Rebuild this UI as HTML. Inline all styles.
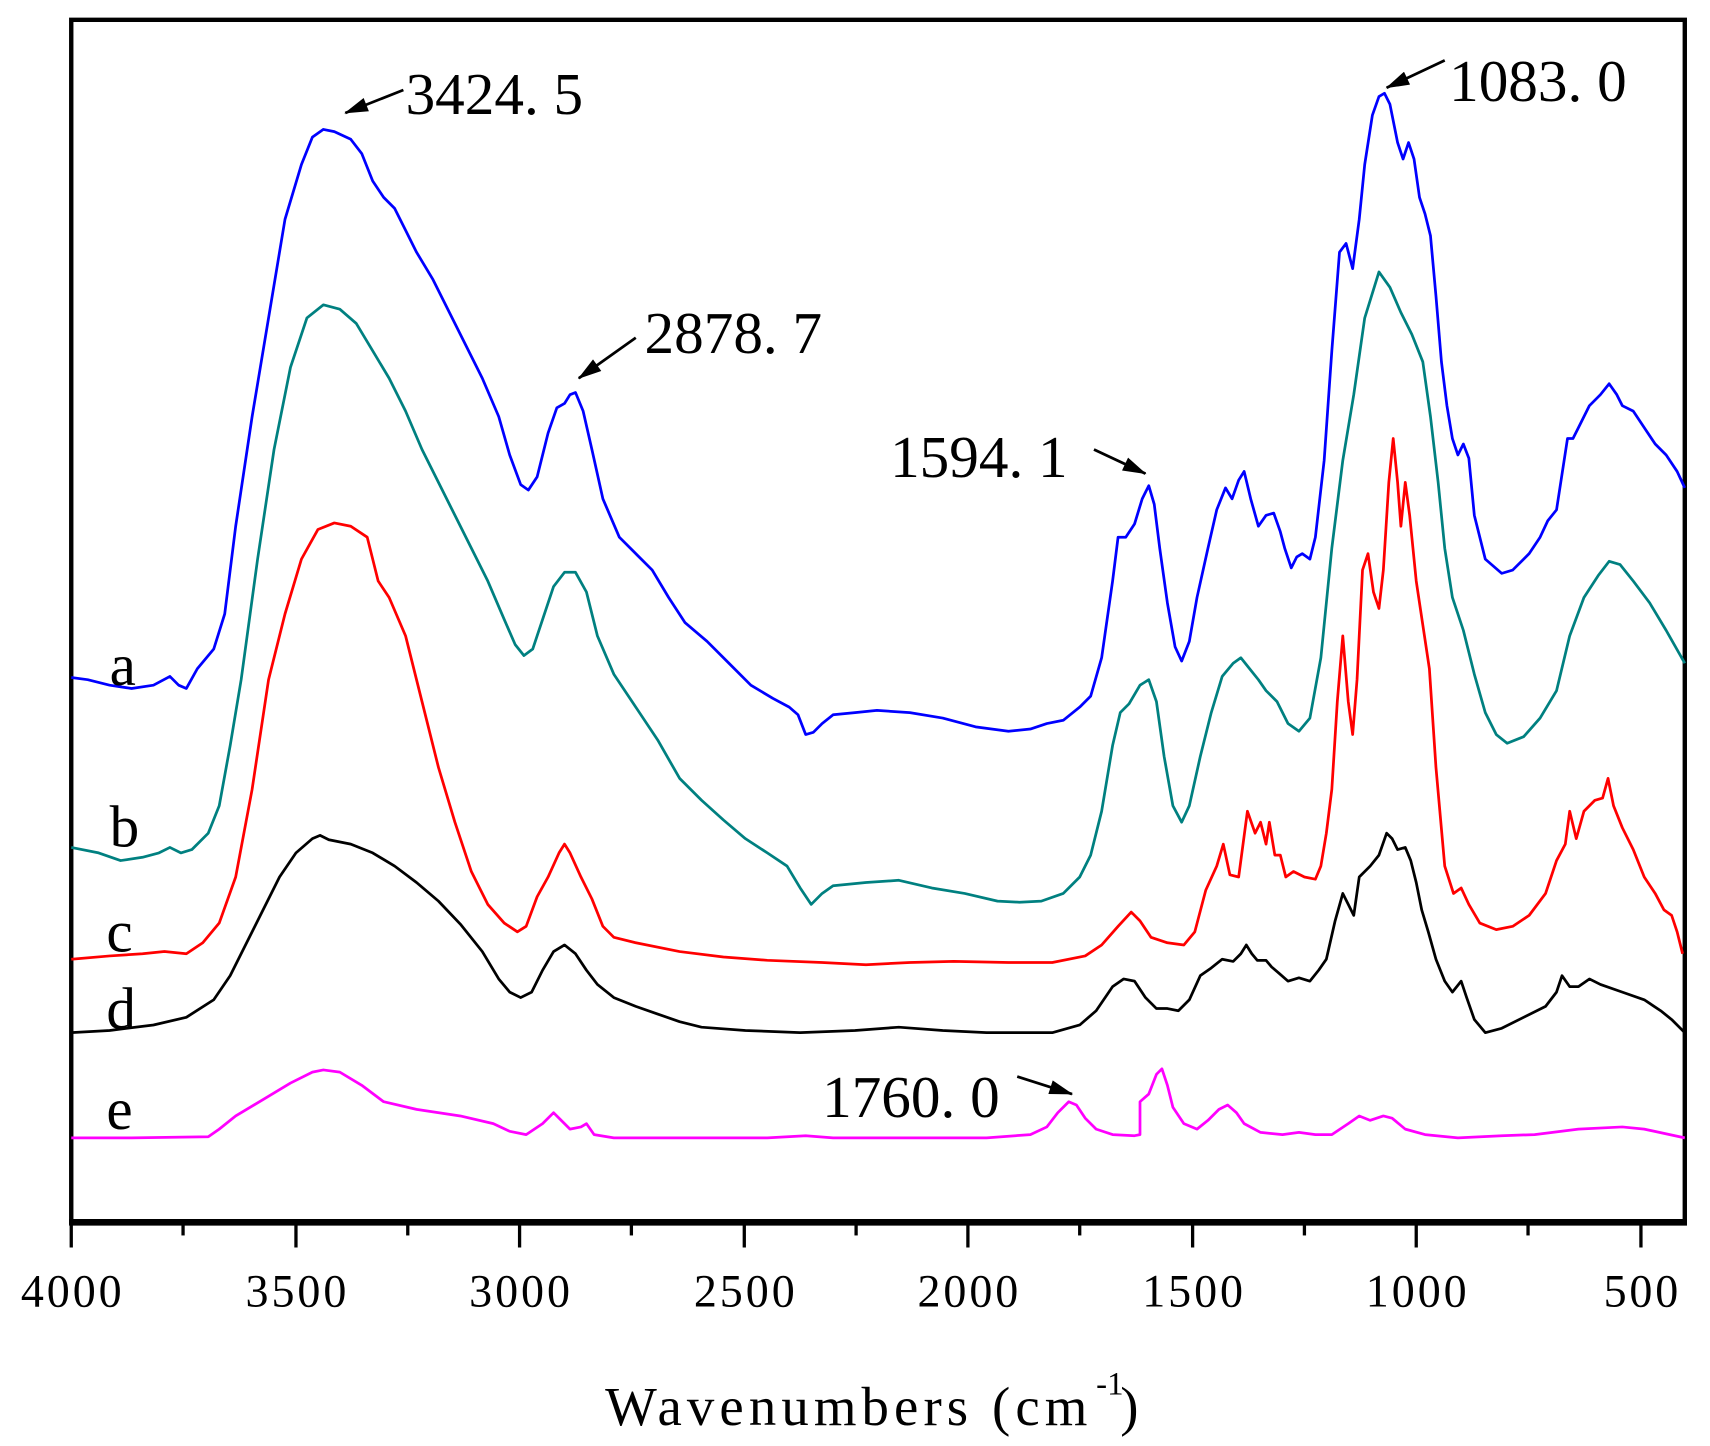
<!DOCTYPE html>
<html><head><meta charset="utf-8"><style>html,body{margin:0;padding:0;background:#fff}svg{display:block}</style></head><body>
<svg width="1710" height="1446" viewBox="0 0 1560 1319" xmlns="http://www.w3.org/2000/svg" font-family="'Liberation Serif', serif">
<defs><marker id="ah" markerWidth="10" markerHeight="8" refX="9" refY="4" orient="auto" markerUnits="userSpaceOnUse"><path d="M0,0 L10,4 L0,8 Z" fill="#000"/></marker>
<marker id="ar" viewBox="0 0 20 12" markerWidth="22" markerHeight="13" refX="19" refY="6" orient="auto" markerUnits="userSpaceOnUse"><path d="M0,0 L20,6 L0,12 Z" fill="#000"/></marker></defs>
<rect x="65" y="18" width="1472" height="1097" fill="none" stroke="#000" stroke-width="4"/>
<line x1="63" y1="1115" x2="1539" y2="1115" stroke="#000" stroke-width="6"/>
<g stroke="#000" stroke-width="3">
<line x1="65" y1="1115" x2="65" y2="1138"/><line x1="167" y1="1115" x2="167" y2="1127"/>
<line x1="270" y1="1115" x2="270" y2="1138"/><line x1="372" y1="1115" x2="372" y2="1127"/>
<line x1="474" y1="1115" x2="474" y2="1138"/><line x1="576" y1="1115" x2="576" y2="1127"/>
<line x1="679" y1="1115" x2="679" y2="1138"/><line x1="781" y1="1115" x2="781" y2="1127"/>
<line x1="883" y1="1115" x2="883" y2="1138"/><line x1="985" y1="1115" x2="985" y2="1127"/>
<line x1="1088" y1="1115" x2="1088" y2="1138"/><line x1="1190" y1="1115" x2="1190" y2="1127"/>
<line x1="1292" y1="1115" x2="1292" y2="1138"/><line x1="1394" y1="1115" x2="1394" y2="1127"/>
<line x1="1497" y1="1115" x2="1497" y2="1138"/>
</g>
<g font-size="42" text-anchor="middle" fill="#000">
<text x="65" y="1192" textLength="92">4000</text><text x="270" y="1192" textLength="92">3500</text><text x="474" y="1192" textLength="92">3000</text><text x="679" y="1192" textLength="92">2500</text><text x="883" y="1192" textLength="92">2000</text><text x="1088" y="1192" textLength="92">1500</text><text x="1292" y="1192" textLength="92">1000</text><text x="1497" y="1192" textLength="68">500</text>
</g>
<text x="552" y="1300" font-size="50" textLength="440">Wavenumbers (cm</text>
<text x="1000" y="1272" font-size="30">-1</text>
<text x="1022" y="1300" font-size="50">)</text>
<g fill="none" stroke-width="2.5" stroke-linejoin="round">
<polyline stroke="#0000ff" points="65,618 80,620 100,625 120,628 140,625 155,617 163,625 170,628 180,610 195,592 205,560 215,480 230,380 245,290 260,200 275,150 285,125 295,118 305,120 320,127 330,140 340,165 350,180 360,190 370,210 380,230 395,255 410,285 425,315 440,345 455,380 465,415 475,442 482,447 490,435 500,395 508,372 515,368 520,360 525,358 532,375 540,410 550,455 565,490 580,505 595,520 610,545 625,568 645,585 665,605 685,625 705,637 720,645 728,652 735,670 742,668 750,660 760,652 780,650 800,648 830,650 860,655 890,663 920,667 940,665 955,660 970,657 985,645 995,635 1005,600 1015,530 1020,490 1027,490 1035,478 1042,455 1048,443 1053,460 1058,500 1065,550 1072,590 1078,603 1085,585 1092,545 1102,500 1110,465 1118,445 1124,455 1130,438 1135,430 1141,455 1148,480 1155,470 1162,468 1168,485 1172,500 1178,518 1183,508 1188,505 1195,510 1200,490 1208,420 1215,320 1222,230 1228,222 1234,245 1240,200 1245,150 1252,105 1258,88 1263,85 1268,95 1275,130 1280,145 1285,130 1290,145 1295,180 1300,195 1305,215 1310,270 1315,330 1320,370 1325,400 1330,415 1335,405 1340,418 1345,470 1355,510 1370,523 1380,520 1395,505 1405,490 1412,475 1420,465 1430,400 1435,400 1440,390 1450,370 1460,360 1468,350 1475,360 1480,370 1490,375 1500,390 1510,405 1520,415 1530,430 1537,445"/>
<polyline stroke="#008080" points="65,773 90,778 110,785 130,782 145,778 155,773 165,778 175,775 190,760 200,735 210,680 220,620 235,510 250,410 265,335 280,290 295,278 310,282 325,295 340,320 355,345 370,375 385,410 400,440 415,470 430,500 445,530 460,565 470,588 478,598 486,592 495,565 505,535 515,522 525,522 535,540 545,580 560,615 580,645 600,675 620,710 640,730 660,748 680,765 700,778 718,790 730,810 740,825 750,815 760,808 790,805 820,803 850,810 880,815 910,822 930,823 950,822 970,815 985,800 995,780 1005,740 1015,680 1022,650 1030,642 1040,625 1048,620 1055,640 1062,690 1070,735 1078,750 1085,735 1095,690 1105,650 1115,617 1125,605 1132,600 1140,610 1148,620 1155,630 1165,640 1175,660 1185,667 1195,655 1205,600 1215,500 1225,420 1235,360 1245,290 1258,248 1268,262 1278,285 1288,305 1298,330 1305,380 1312,440 1318,500 1325,545 1335,575 1345,615 1355,650 1365,670 1375,678 1390,672 1405,655 1420,630 1432,580 1445,545 1458,525 1468,512 1478,515 1490,530 1505,550 1520,575 1537,605"/>
<polyline stroke="#ff0000" points="65,875 100,872 130,870 150,868 170,870 185,860 200,842 215,800 230,720 245,620 260,560 275,510 290,483 305,477 320,480 335,490 345,530 355,545 370,580 385,640 400,700 415,750 430,795 445,825 460,842 472,850 480,845 490,818 500,800 510,778 515,770 520,778 530,800 540,820 550,845 560,855 580,860 620,868 660,873 700,876 750,878 790,880 830,878 870,877 920,878 960,878 990,872 1005,862 1020,845 1032,832 1040,840 1050,855 1065,860 1080,862 1090,850 1100,812 1110,790 1116,770 1122,798 1130,800 1138,740 1145,760 1150,750 1155,770 1158,750 1163,780 1168,780 1173,800 1180,795 1190,800 1200,802 1205,790 1210,760 1215,720 1220,640 1225,580 1230,640 1234,670 1238,620 1243,520 1248,505 1253,540 1258,555 1262,520 1267,440 1271,400 1275,440 1278,480 1282,440 1286,470 1292,530 1298,570 1304,610 1310,700 1318,790 1326,815 1333,810 1340,825 1350,842 1365,848 1380,845 1395,835 1410,815 1420,785 1428,770 1432,740 1438,765 1445,740 1455,730 1462,728 1467,710 1472,735 1480,755 1490,775 1500,800 1510,815 1518,830 1525,835 1530,850 1535,870"/>
<polyline stroke="#000000" points="65,942 100,940 140,935 170,928 195,912 210,890 225,860 240,830 255,800 270,778 285,765 292,762 300,766 320,770 340,778 360,790 380,805 400,822 420,843 440,868 455,893 465,905 475,910 485,905 495,885 505,868 515,862 525,870 535,885 545,898 560,910 580,918 600,925 620,932 640,937 680,940 730,942 780,940 820,937 860,940 900,942 960,942 985,935 1000,922 1015,900 1025,893 1035,895 1045,910 1055,920 1065,920 1075,922 1085,912 1095,890 1105,883 1115,875 1125,877 1132,870 1137,862 1142,870 1147,876 1155,876 1160,882 1167,888 1175,895 1185,892 1195,895 1203,885 1210,875 1218,840 1225,815 1230,825 1235,835 1240,800 1250,790 1258,780 1265,760 1270,765 1275,775 1282,773 1287,785 1292,805 1297,830 1303,850 1310,875 1318,895 1325,905 1333,895 1338,910 1345,930 1355,942 1370,938 1390,928 1410,918 1420,905 1425,890 1432,900 1440,900 1450,893 1460,898 1480,905 1500,912 1515,922 1525,930 1537,942"/>
<polyline stroke="#ff00ff" points="65,1038 120,1038 190,1037 200,1030 215,1018 240,1003 265,988 285,978 295,976 310,978 330,990 350,1005 380,1012 420,1018 450,1025 465,1032 480,1035 495,1025 505,1015 512,1022 520,1030 530,1028 535,1025 542,1035 560,1038 600,1038 700,1038 735,1036 760,1038 800,1038 850,1038 900,1038 940,1035 955,1028 965,1015 975,1005 982,1008 990,1020 1000,1030 1015,1035 1035,1036 1040,1035 1040,1005 1048,998 1055,980 1060,975 1065,990 1070,1010 1080,1025 1092,1030 1102,1022 1112,1012 1120,1008 1128,1015 1135,1025 1150,1033 1170,1035 1185,1033 1200,1035 1215,1035 1230,1025 1240,1018 1250,1022 1262,1018 1270,1020 1282,1030 1300,1035 1330,1038 1370,1036 1400,1035 1440,1030 1480,1028 1500,1030 1537,1038"/>
</g>
<g font-size="54" fill="#000">
<text x="100" y="625">a</text><text x="100" y="772">b</text><text x="97" y="868">c</text><text x="97" y="938">d</text><text x="97" y="1030">e</text>
</g>
<g font-size="54" fill="#000">
<text x="370" y="104">3424. 5</text>
<text x="588" y="322">2878. 7</text>
<text x="812" y="435">1594. 1</text>
<text x="1322" y="92">1083. 0</text>
<text x="750" y="1019">1760. 0</text>
</g>
<g stroke="#000" stroke-width="2.5" marker-end="url(#ar)">
<line x1="368" y1="82" x2="315" y2="103"/>
<line x1="580" y1="308" x2="528" y2="345"/>
<line x1="998" y1="410" x2="1045" y2="432"/>
<line x1="1318" y1="55" x2="1265" y2="80"/>
<line x1="928" y1="982" x2="978" y2="998"/>
</g>
</svg>
</body></html>
